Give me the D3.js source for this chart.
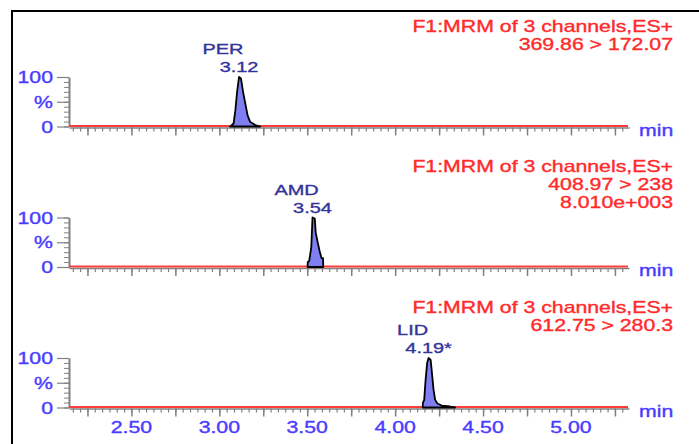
<!DOCTYPE html>
<html>
<head>
<meta charset="utf-8">
<script src="https://cdn.jsdelivr.net/npm/d3@7"></script>
<style>
  body { margin: 0; background: #fff; }
  svg text { font-family: "Liberation Sans", Arial, sans-serif; }
</style>
</head>
<body>
<div id="chart"></div>
<script>
// chart data
var compounds = ["PER", "AMD", "LID"];
var retLabels = ["3.12", "3.54", "4.19*"];
var headers = [
  ["F1:MRM of 3 channels,ES+", "369.86 > 172.07"],
  ["F1:MRM of 3 channels,ES+", "408.97 > 238", "8.010e+003"],
  ["F1:MRM of 3 channels,ES+", "612.75 > 280.3"]
];
// time (min) / intensity (%)
var perTime = [3.060, 3.066, 3.081, 3.091, 3.101, 3.112, 3.123, 3.135, 3.148, 3.161, 3.176, 3.205, 3.233];
var perInt  = [0, 1, 6, 32, 70, 100, 97, 70, 46, 22, 9, 3, 0];
var amdTime = [3.502, 3.503, 3.511, 3.523, 3.530, 3.543, 3.548, 3.558, 3.570, 3.581, 3.590, 3.591];
var amdInt  = [0, 10, 12, 40, 100, 98, 70, 52, 33, 18, 18, 0];
var lidTime = [4.157, 4.158, 4.165, 4.173, 4.182, 4.190, 4.202, 4.209, 4.218, 4.227, 4.240, 4.265, 4.312, 4.341];
var lidInt  = [0, 10, 15, 55, 90, 100, 96, 71, 37, 16, 8, 4, 2, 0];
var xLabels = [2.50, 3.00, 3.50, 4.00, 4.50, 5.00];
var yLabels = ["0", "%", "100"];

var w = 699, h = 444;
var stretch = 1.33;   // the picture text is wide, so stretch it

var svg = d3.select("#chart").append("svg")
    .attr("width", w)
    .attr("height", h);

// frame
svg.append("path")
    .attr("d", "M12," + h + " V11 H" + w)
    .attr("fill", "none")
    .attr("stroke", "#000")
    .attr("stroke-width", 2);

var x = d3.scaleLinear().domain([2.145, 5.33]).range([69, 629]);

function stext(g, px, py, str, anchor, size, color) {
    return g.append("text")
        .attr("transform", "translate(" + px + "," + py + ") scale(" + stretch + ",1)")
        .attr("text-anchor", anchor)
        .style("font-size", size + "px")
        .attr("fill", color)
        .attr("stroke", color)
        .attr("stroke-width", 0.35)
        .text(str);
}

var peaks = [
  {t: perTime, v: perInt},
  {t: amdTime, v: amdInt},
  {t: lidTime, v: lidInt}
];

var majorTicks = d3.range(0, 13).map(function (i) { return 2.25 + i * 0.25; }).filter(function (d) { return d <= 5.33; });
var minorTicks = d3.range(-2, 74).map(function (i) { return 2.25 + i * 0.25 / 6; })
    .filter(function (d) { return d >= 2.15 && d <= 5.33; });

var blue = "#4a3cff";

for (var i = 0; i < 3; i++) {
    var y0 = 126.5 + i * 140.5;
    var y = d3.scaleLinear().domain([0, 100]).range([y0, y0 - 49.5]);
    var g = svg.append("g");

    // x axis, minor then major ticks
    g.append("g")
        .attr("transform", "translate(0," + (y0 + 1) + ")")
        .call(d3.axisBottom(x).tickValues(minorTicks).tickSize(4).tickFormat("").tickSizeOuter(0))
        .call(function (a) {
            a.select(".domain").attr("stroke", "#808080").attr("stroke-width", 1.5);
            a.selectAll(".tick line").attr("stroke", "#808080").attr("stroke-width", 1.2);
        });
    g.append("g")
        .attr("transform", "translate(0," + (y0 + 1) + ")")
        .call(d3.axisBottom(x).tickValues(majorTicks).tickSize(8).tickFormat("").tickSizeOuter(0))
        .call(function (a) {
            a.select(".domain").remove();
            a.selectAll(".tick line").attr("stroke", "#808080").attr("stroke-width", 1.5);
        });

    // y axis
    g.append("g")
        .attr("transform", "translate(69,0)")
        .call(d3.axisLeft(y).tickValues(d3.range(0, 101, 10)).tickSize(5).tickFormat("").tickSizeOuter(0))
        .call(function (a) {
            a.select(".domain").attr("stroke", "#808080").attr("stroke-width", 2);
            a.selectAll(".tick line").attr("stroke", "#808080").attr("stroke-width", 1);
        });
    g.append("g")
        .attr("transform", "translate(69,0)")
        .call(d3.axisLeft(y).tickValues([0, 50, 100]).tickSize(12).tickFormat("").tickSizeOuter(0))
        .call(function (a) {
            a.select(".domain").remove();
            a.selectAll(".tick line").attr("stroke", "#808080").attr("stroke-width", 1.2);
        });
    [0, 50, 100].forEach(function (v, k) {
        stext(g, 53, y(v) + 6, yLabels[k], "end", 16, blue);
    });

    // red baseline
    g.append("line")
        .attr("x1", x.range()[0]).attr("x2", x.range()[1] - 1)
        .attr("y1", y0 - 0.5).attr("y2", y0 - 0.5)
        .attr("stroke", "#ff3c3c")
        .attr("stroke-width", 2);

    // peak
    var p = peaks[i];
    var pts = p.t.map(function (t, k) { return [t, p.v[k]]; });
    g.append("path")
        .datum(pts)
        .attr("d", d3.area()
            .x(function (d) { return x(d[0]); })
            .y0(y(0))
            .y1(function (d) { return y(d[1]); }))
        .attr("fill", "#7f7ff2")
        .attr("stroke", "#000")
        .attr("stroke-width", 1.8)
        .attr("stroke-linejoin", "round");

    // peak labels
    var apex = p.t[p.v.indexOf(d3.max(p.v))];
    stext(g, x(apex) - 16, y0 - 72.5, compounds[i], "middle", 15, "#33339a");
    stext(g, x(apex), y0 - 54.5, retLabels[i], "middle", 15, "#33339a");

    // header
    headers[i].forEach(function (line, k) {
        stext(g, 673, y0 - 95 + k * 18, line, "end", 16, "#ff2a2a");
    });

    // min
    stext(g, 639, y0 + 9, "min", "start", 16, blue);

    // tick labels on the last panel only
    if (i === 2) {
        xLabels.forEach(function (v) {
            stext(g, x(v), y0 + 25.5, v.toFixed(2), "middle", 16, blue);
        });
    }
}
</script>
</body>
</html>
